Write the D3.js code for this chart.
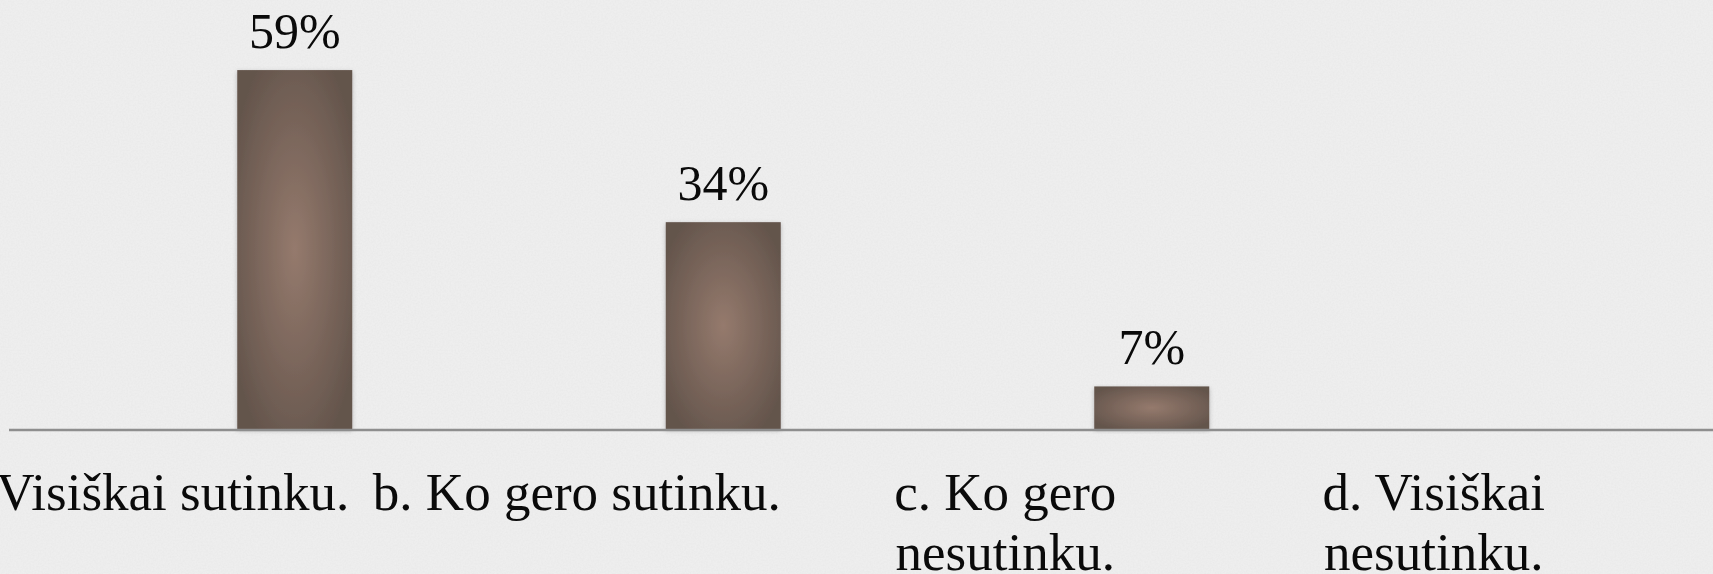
<!DOCTYPE html>
<html lang="lt">
<head>
  <meta charset="utf-8" />
  <title>Apklausos rezultatai</title>
  <script src="https://d3js.org/d3.v7.min.js"></script>
  <style>
    html, body { margin: 0; padding: 0; background: #ececec; overflow: hidden; }
    text { font-family: "Liberation Serif", "Times New Roman", serif; fill: #0a0a0a; }
  </style>
</head>
<body>
  <script>
    // chart data
    var categories = ["a. Visiškai sutinku.", "b. Ko gero sutinku.", "c. Ko gero\nnesutinku.", "d. Visiškai\nnesutinku."];
    var values = [59, 34, 7, 0];
    var valueLabels = ["59%", "34%", "7%", ""];

    var svg_width = 1713;
    var svg_height = 574;
    var baseY = 429;
    var labelShift = -146.5; // category text sits left of its bar in the original

    var svg = d3.select("body").append("svg")
      .attr("width", svg_width)
      .attr("height", svg_height);

    var defs = svg.append("defs");

    // paper texture
    var paper = defs.append("filter").attr("id", "paper")
      .attr("x", 0).attr("y", 0).attr("width", "100%").attr("height", "100%");
    paper.append("feTurbulence")
      .attr("type", "fractalNoise")
      .attr("baseFrequency", 0.6)
      .attr("numOctaves", 3)
      .attr("seed", 7)
      .attr("result", "noise");
    paper.append("feColorMatrix")
      .attr("in", "noise")
      .attr("type", "matrix")
      .attr("values", "0 0 0 0 0.6  0 0 0 0 0.6  0 0 0 0 0.6  0 0 0 0.22 0")
      .attr("result", "grain");
    paper.append("feComposite").attr("in", "grain").attr("in2", "SourceGraphic").attr("operator", "over");

    var grad = defs.append("radialGradient").attr("id", "barFill")
      .attr("cx", "50%").attr("cy", "50%").attr("r", "60%");
    grad.append("stop").attr("offset", "0%").attr("stop-color", "#957a6d");
    grad.append("stop").attr("offset", "100%").attr("stop-color", "#64554c");

    var shadow = defs.append("filter").attr("id", "shadow")
      .attr("x", "-20%").attr("y", "-5%").attr("width", "140%").attr("height", "115%");
    shadow.append("feDropShadow")
      .attr("dx", 0).attr("dy", 1.5).attr("stdDeviation", 2)
      .attr("flood-color", "#000").attr("flood-opacity", 0.25);

    svg.append("rect")
      .attr("width", svg_width)
      .attr("height", svg_height)
      .attr("fill", "#f0f0f0")
      .attr("filter", "url(#paper)");

    var x = d3.scaleBand()
      .domain(categories)
      .range([80.5, 1794.5])
      .paddingInner(0.7316)
      .paddingOuter(0.3658);

    var y = d3.scaleLinear()
      .domain([0, 60])
      .range([baseY, baseY - 365]);

    // bars
    svg.selectAll(".bar")
      .data(categories)
      .enter().append("rect")
      .attr("class", "bar")
      .attr("x", function (d) { return x(d); })
      .attr("y", function (d, i) { return y(values[i]); })
      .attr("width", x.bandwidth())
      .attr("height", function (d, i) { return y(0) - y(values[i]); })
      .attr("fill", "url(#barFill)")
      .attr("filter", "url(#shadow)")
      .style("display", function (d, i) { return values[i] > 0 ? null : "none"; });

    // baseline
    svg.append("line")
      .attr("x1", 9)
      .attr("x2", svg_width)
      .attr("y1", baseY + 1)
      .attr("y2", baseY + 1)
      .attr("stroke", "#8e8e8e")
      .attr("stroke-width", 2.5);

    // value labels
    svg.selectAll(".val")
      .data(categories)
      .enter().append("text")
      .attr("class", "val")
      .attr("x", function (d) { return x(d) + x.bandwidth() / 2; })
      .attr("y", function (d, i) { return y(values[i]) - 22; })
      .attr("text-anchor", "middle")
      .style("font-size", "50px")
      .text(function (d, i) { return valueLabels[i]; });

    // category labels
    var cats = svg.selectAll(".cat")
      .data(categories)
      .enter().append("text")
      .attr("class", "cat")
      .attr("text-anchor", "middle")
      .style("font-size", "53px");

    cats.each(function (d) {
      var cx = x(d) + x.bandwidth() / 2 + labelShift;
      d3.select(this).selectAll("tspan")
        .data(d.split("\n"))
        .enter().append("tspan")
        .attr("x", cx)
        .attr("y", function (l, j) { return 510 + j * 60; })
        .text(function (l) { return l; });
    });
  </script>
</body>
</html>
